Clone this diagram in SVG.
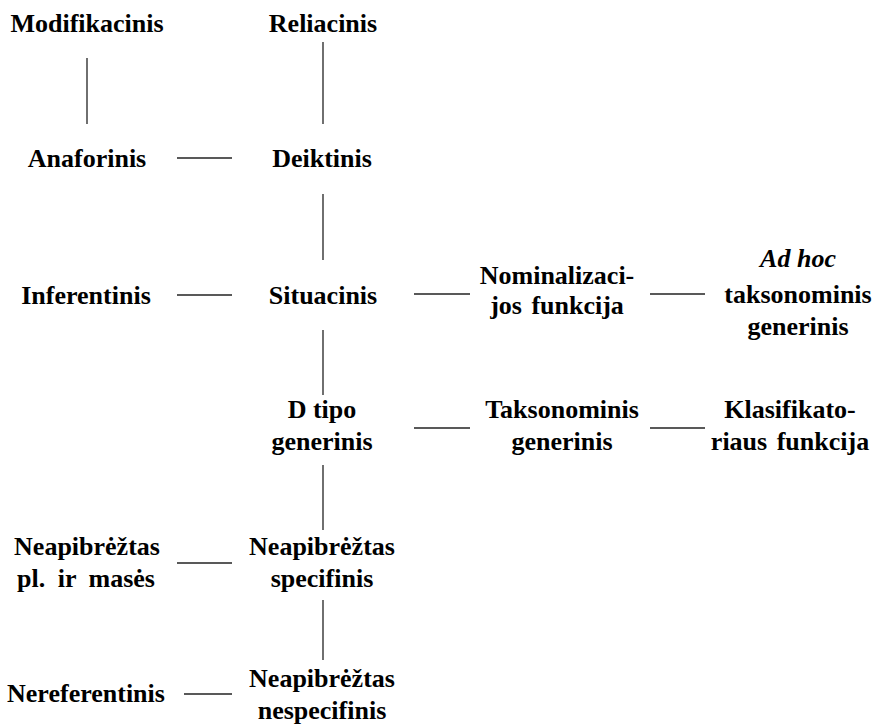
<svg xmlns="http://www.w3.org/2000/svg" width="877" height="725" viewBox="0 0 877 725">
<style>
.t text{font-weight:bold;font-size:26px;fill:#000;text-anchor:middle}
.it{font-style:italic}
.c line{stroke:#222;stroke-width:1.3}
</style>
<rect width="877" height="725" fill="#fff"/>
<g class="c" id="connectors">
<line x1="87" y1="58" x2="87" y2="124"/>
<line x1="323" y1="42" x2="323" y2="124"/>
<line x1="177" y1="158" x2="232" y2="158"/>
<line x1="323" y1="194" x2="323" y2="260"/>
<line x1="177" y1="295" x2="232" y2="295"/>
<line x1="414" y1="294" x2="470" y2="294"/>
<line x1="650" y1="294" x2="705" y2="294"/>
<line x1="323" y1="330" x2="323" y2="395"/>
<line x1="414" y1="428" x2="470" y2="428"/>
<line x1="650" y1="428" x2="705" y2="428"/>
<line x1="323" y1="465" x2="323" y2="530"/>
<line x1="177" y1="563" x2="232" y2="563"/>
<line x1="323" y1="600" x2="323" y2="660"/>
<line x1="184" y1="694" x2="232" y2="694"/>
</g>
<g class="t" font-family="Liberation Serif">
<g id="modifikacinis"><text x="87" y="32">Modifikacinis</text></g>
<g id="reliacinis"><text x="323" y="32">Reliacinis</text></g>
<g id="anaforinis"><text x="87" y="167">Anaforinis</text></g>
<g id="deiktinis"><text x="322" y="167">Deiktinis</text></g>
<g id="inferentinis"><text x="86" y="304">Inferentinis</text></g>
<g id="situacinis"><text x="323" y="304">Situacinis</text></g>
<g id="nominalizacijos"><text x="557" y="284">Nominalizaci-</text><text x="557" y="314" word-spacing="3">jos funkcija</text></g>
<g id="adhoc"><text x="798" y="267" class="it">Ad hoc</text><text x="798" y="303">taksonominis</text><text x="798" y="335">generinis</text></g>
<g id="dtipo"><text x="322" y="418">D tipo</text><text x="322" y="450">generinis</text></g>
<g id="taksonominis"><text x="562" y="418">Taksonominis</text><text x="562" y="450">generinis</text></g>
<g id="klasifikatoriaus"><text x="790" y="418">Klasifikato-</text><text x="790" y="450" word-spacing="3">riaus funkcija</text></g>
<g id="neapibreztas-pl"><text x="87" y="555">Neapibrėžtas</text><text x="86" y="587" word-spacing="6">pl. ir masės</text></g>
<g id="neapibreztas-spec"><text x="322" y="555">Neapibrėžtas</text><text x="322" y="587">specifinis</text></g>
<g id="nereferentinis"><text x="86" y="702">Nereferentinis</text></g>
<g id="neapibreztas-nespec"><text x="322" y="687">Neapibrėžtas</text><text x="322" y="719">nespecifinis</text></g>
</g>
</svg>
